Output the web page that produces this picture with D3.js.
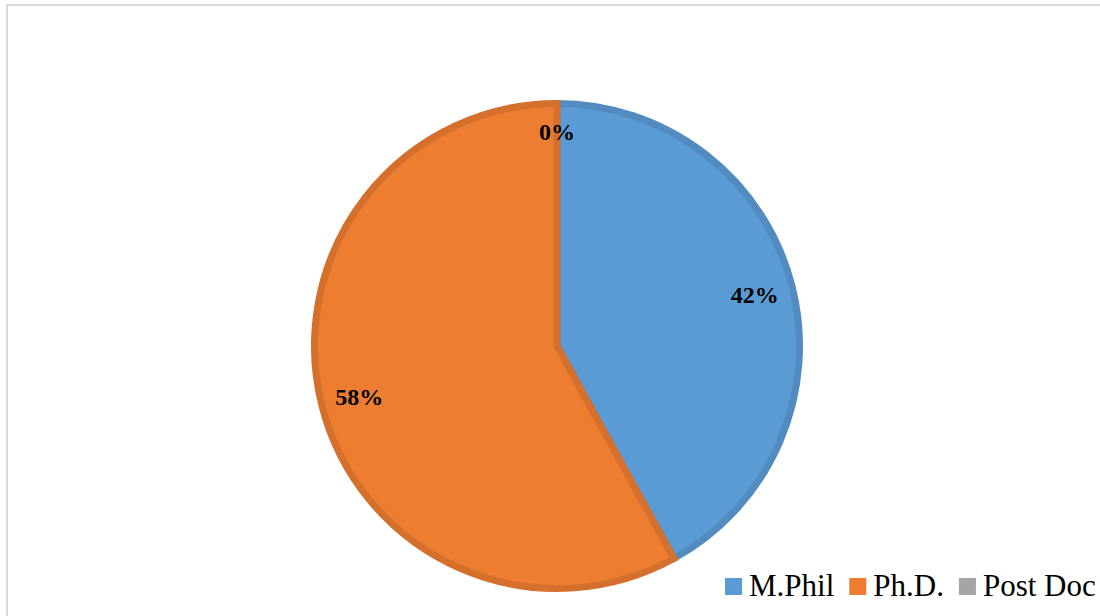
<!DOCTYPE html>
<html>
<head>
<meta charset="utf-8">
<script src="https://cdn.jsdelivr.net/npm/d3@7"></script>
<style>
  body { margin: 0; background: #fff; }
  svg { display: block; }
  .serif { font-family: "Times New Roman", "Liberation Serif", Times, serif; }
</style>
</head>
<body>
<div id="chart"></div>
<script>
// chart data
const categories = ["M.Phil", "Ph.D.", "Post Doc"];
const percents = [42, 58, 0];
const sliceColors = ["#5b9bd5", "#ed7d31", "#a5a5a5"];

const width = 1100;
const height = 616;

const svg = d3.select("#chart")
    .append("svg")
    .attr("width", width)
    .attr("height", height);

// light frame around the chart area (cut off right/bottom)
svg.append("rect")
    .attr("x", 7)
    .attr("y", 5)
    .attr("width", width + 20)
    .attr("height", height + 20)
    .attr("fill", "none")
    .attr("stroke", "#d9d9d9")
    .attr("stroke-width", 2);

const cx = 557, cy = 346, R = 246;
const borderW = 7;

const data = categories.map((c, i) => ({ name: c, value: percents[i], color: sliceColors[i] }));

const pie = d3.pie()
    .sort(null)
    .value(d => d.value);

const arcs = pie(data);

const arc = d3.arc()
    .innerRadius(0)
    .outerRadius(R - borderW / 2);

const g = svg.append("g").attr("transform", `translate(${cx},${cy})`);

g.selectAll("path.slice")
    .data(arcs.filter(d => d.data.value > 0))
    .enter()
    .append("path")
    .attr("class", "slice")
    .attr("d", arc)
    .attr("fill", d => d.data.color)
    .attr("stroke", d => d3.color(d.data.color).darker(0.3))
    .attr("stroke-width", borderW)
    .attr("stroke-linejoin", "miter");

// data labels (empty slices get pushed a bit further out, like excel's best fit)
const labelArc = d3.arc()
    .innerRadius(R * 0.83)
    .outerRadius(R * 0.83);
const labelArcEmpty = d3.arc()
    .innerRadius(R * 0.87)
    .outerRadius(R * 0.87);

g.selectAll("text.lbl")
    .data(arcs)
    .enter()
    .append("text")
    .attr("class", "lbl serif")
    .attr("transform", d => `translate(${(d.data.value > 0 ? labelArc : labelArcEmpty).centroid(d)})`)
    .attr("text-anchor", "middle")
    .attr("dominant-baseline", "central")
    .style("font-weight", "bold")
    .style("font-size", "24px")
    .attr("fill", "#000")
    .text(d => d.data.value + "%");

// legend
const legend = svg.append("g").attr("transform", "translate(725,587)");
let lx = 0;
data.forEach(d => {
    const item = legend.append("g").attr("transform", `translate(${lx},0)`);
    item.append("rect")
        .attr("x", 0)
        .attr("y", -9)
        .attr("width", 17)
        .attr("height", 17)
        .attr("fill", d.color);
    const t = item.append("text")
        .attr("class", "serif")
        .attr("x", 24)
        .attr("y", 9)
        .style("font-size", "31px")
        .attr("fill", "#000")
        .text(d.name);
    lx += 24 + t.node().getComputedTextLength() + 15;
});
</script>
</body>
</html>
